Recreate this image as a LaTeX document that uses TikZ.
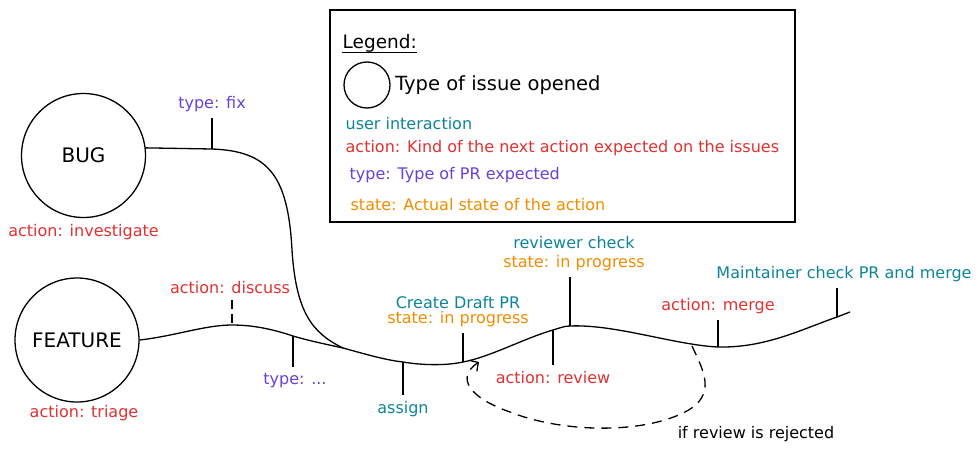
\documentclass[tikz,border=0pt]{standalone}
\usepackage{fontspec}
\setmainfont{DejaVu Sans}
\usetikzlibrary{arrows.meta,positioning}
\definecolor{WFTeal}{HTML}{0C8599}
\definecolor{WFRed}{HTML}{E03131}
\definecolor{WFPurple}{HTML}{6741D9}
\definecolor{WFOrange}{HTML}{F08C00}

\begin{document}
\begin{tikzpicture}[x=1pt,y=-1pt,line width=1.3pt,
  issue/.style={draw,circle,minimum size=124pt,inner sep=0pt,font=\fontsize{20}{22}\selectfont},
  lbl/.style={inner sep=1pt,outer sep=5pt,font=\fontsize{16}{15}\selectfont},
  usr/.style={lbl,text=WFTeal},
  act/.style={lbl,text=WFRed},
  typ/.style={lbl,text=WFPurple},
  stt/.style={lbl,text=WFOrange},
  legtxt/.style={anchor=west,inner sep=0pt,font=\fontsize{16}{18}\selectfont}]
  \useasboundingbox (0,0) rectangle (979,455);

  % legend
  \draw (330,10) rectangle (795,222);
  \node[legtxt,font=\fontsize{18.5}{20}\selectfont] (legT) at (342,43) {Legend:};
  \draw (legT.south west) -- (legT.south east);
  \node[draw,circle,minimum size=46pt,inner sep=0pt] (legC) at (367,85) {};
  \node[legtxt,font=\fontsize{19.5}{22}\selectfont,right=4pt of legC] (legI) {Type of issue opened};
  \node[legtxt,text=WFTeal] (legU) at (345,124) {user interaction};
  \node[legtxt,text=WFRed] (legA) at (345,148) {action: Kind of the next action expected on the issues};
  \node[legtxt,text=WFPurple] (legP) at (349,175) {type: Type of PR expected};
  \node[legtxt,text=WFOrange] (legS) at (350,205) {state: Actual state of the action};

  % issues
  \node[issue] (bug) at (83.5,155.5) {BUG};
  \node[issue] (feature) at (77,340) {FEATURE};
  \node[act,below=0pt of bug] (bugL) {action: investigate};
  \node[act,below=-3pt of feature,xshift=7pt] (featL) {action: triage};

  % points on the lines
  \coordinate (fixB) at (212,149);
  \coordinate (meet) at (343,348);
  \coordinate (discB) at (232,325);
  \coordinate (typeB) at (293,336);
  \coordinate (assignB) at (403,362);
  \coordinate (draftB) at (463,362);
  \coordinate (reviewB) at (553,330);
  \coordinate (checkB) at (570,326);
  \coordinate (loopB) at (692,346);
  \coordinate (mergeB) at (718,347);
  \coordinate (maintB) at (837,317);
  \coordinate (lineE) at (850,312);
  \coordinate (loopE) at (479,362);

  \draw (bug.7) -- (fixB) .. controls (268,151) and (288,175) .. (292,250)
    .. controls (296,312) and (312,333) .. (meet);
  \draw (feature.east) .. controls (175,336) and (205,325) .. (discB)
    .. controls (255,325) and (275,330) .. (typeB)
    .. controls (310,341) and (325,344) .. (meet)
    .. controls (365,354) and (385,360) .. (assignB)
    .. controls (420,365) and (445,366) .. (draftB)
    .. controls (490,357) and (525,338) .. (reviewB)
    .. controls (560,328) and (564,326) .. (checkB)
    .. controls (615,324) and (675,345) .. (mergeB)
    .. controls (765,348) and (800,330) .. (maintB)
    -- (lineE);

  % labels and ticks
  \node[typ,above=31pt of fixB] (fixL) {type: fix};
  \draw (fixB) -- (fixL);
  \node[act,above=25pt of discB,xshift=-2pt] (discL) {action: discuss};
  \draw[dash pattern=on 9pt off 5pt] (discL.south -| discB) -- (discB);
  \node[typ,below=31pt of typeB,xshift=2pt] (typeL) {type: ...};
  \draw (typeB) -- (typeB |- typeL.north);
  \node[usr,below=33pt of assignB] (assignL) {assign};
  \draw (assignB) -- (assignL);
  \node[lbl,align=center,above=29pt of draftB,xshift=-5pt] (draftL)
    {\textcolor{WFTeal}{Create Draft PR}\\\textcolor{WFOrange}{state: in progress}};
  \draw (draftB) -- (draftB |- draftL.south);
  \node[act,below=35pt of reviewB] (reviewL) {action: review};
  \draw (reviewB) -- (reviewL);
  \node[lbl,align=center,font=\fontsize{16}{19}\selectfont,above=49pt of checkB,xshift=4pt] (checkL)
    {\textcolor{WFTeal}{reviewer check}\\\textcolor{WFOrange}{state: in progress}};
  \draw (checkB) -- (checkB |- checkL.south);
  \node[act,above=27pt of mergeB] (mergeL) {action: merge};
  \draw (mergeB) -- (mergeL);
  \node[usr,above=29pt of maintB,xshift=7pt] (maintL) {Maintainer check PR and merge};
  \draw (maintB) -- (maintB |- maintL.south);

  % rejected review loop
  \draw[dash pattern=on 10pt off 7pt,-{Straight Barb[length=6pt,width=13pt]}]
    (loopB) .. controls (703,370) and (718,395) .. (685,412)
    .. controls (640,435) and (560,432) .. (510,412)
    .. controls (470,398) and (455,378) .. (loopE);
  \node[lbl] (rejL) at (756,434) {if review is rejected};
\end{tikzpicture}
\end{document}
